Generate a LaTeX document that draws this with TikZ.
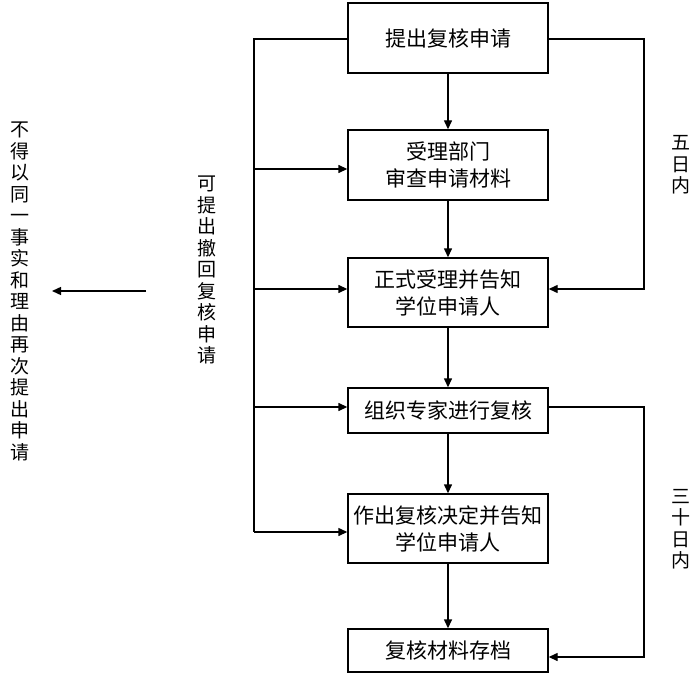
\documentclass[tikz,border=0pt]{standalone}
\usepackage{fontspec}
\newfontfamily\cjk{Noto Sans CJK SC}
\usetikzlibrary{arrows.meta}
\begin{document}
\begin{tikzpicture}[x=1pt,y=-1pt,
  box/.style={draw=black,line width=1.4pt,minimum width=200pt,inner sep=0pt,align=center,
    font=\cjk\fontsize{21}{27}\selectfont},
  vtext/.style={align=center,inner sep=0pt,font=\cjk\fontsize{19}{21.5}\selectfont},
  ln/.style={line width=1.4pt},
  arr/.style={line width=1.4pt,-{Triangle[length=9pt,width=8pt]}}]
\useasboundingbox[fill=white] (0,0) rectangle (700,676);
\node[box,minimum height=70pt] (b1) at (448,38) {提出复核申请};
\node[box,minimum height=70pt] (b2) at (448,165) {受理部门\\审查申请材料};
\node[box,minimum height=69pt] (b3) at (448,292.5) {正式受理并告知\\学位申请人};
\node[box,minimum height=45pt] (b4) at (448,410.5) {组织专家进行复核};
\node[box,minimum height=69pt] (b5) at (448,528.5) {作出复核决定并告知\\学位申请人};
\node[box,minimum height=43pt] (b6) at (448,650.5) {复核材料存档};
\draw[arr] (b1) -- (b2);
\draw[arr] (b2) -- (b3);
\draw[arr] (b3) -- (b4);
\draw[arr] (b4) -- (b5);
\draw[arr] (b5) -- (b6);
% left withdraw line
\coordinate (L0) at (254,39);
\coordinate (L2) at (254,169);
\coordinate (L3) at (254,289);
\coordinate (L4) at (254,407);
\coordinate (L5) at (254,532);
\draw[ln] (L0 -| b1.west) -- (L0) -- (L5);
\draw[arr] (L2) -- (L2 -| b2.west);
\draw[arr] (L3) -- (L3 -| b3.west);
\draw[arr] (L4) -- (L4 -| b4.west);
\draw[arr] (L5) -- (L5 -| b5.west);
% right time-limit lines
\coordinate (R0) at (644,39);
\coordinate (R1) at (644,289);
\coordinate (R2) at (644,407);
\coordinate (R3) at (644,657);
\draw[arr] (R0 -| b1.east) -- (R0) -- (R1) -- (R1 -| b3.east);
\draw[arr] (R2 -| b4.east) -- (R2) -- (R3) -- (R3 -| b6.east);
\node[vtext] (t5) at (681,165) {五\\日\\内};
\node[vtext] (t30) at (681,529) {三\\十\\日\\内};
\node[vtext] (tw) at (207,270) {可\\提\\出\\撤\\回\\复\\核\\申\\请};
\node[vtext] (tn) at (20,291.5) {不\\得\\以\\同\\一\\事\\实\\和\\理\\由\\再\\次\\提\\出\\申\\请};
\coordinate (A1) at (146,291);
\coordinate (A2) at (52,291);
\draw[arr] (A1) -- (A2);
\end{tikzpicture}
\end{document}
